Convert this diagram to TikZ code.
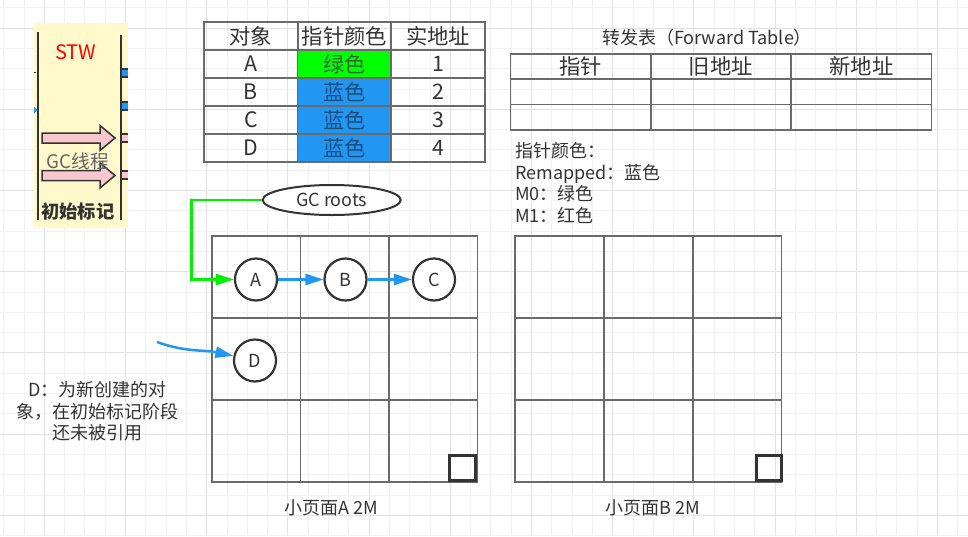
\documentclass[tikz,border=0pt]{standalone}
\usepackage{fontspec}
\setmainfont{Noto Sans CJK SC}
\usetikzlibrary{arrows.meta, positioning, shapes.geometric}

\newdimen\pxu \pxu=0.75pt
\newcommand\bodyfont{\fontsize{13.5}{16.1}\selectfont}
\newcommand\tabfont{\fontsize{16}{19}\selectfont}

\definecolor{gridminor}{HTML}{F2F2F2}
\definecolor{gridmajor}{HTML}{E2E2E2}
\definecolor{linegray}{HTML}{6A6A6A}
\definecolor{inkgray}{HTML}{333333}
\definecolor{panelyellow}{HTML}{FFF9CC}
\definecolor{arrowpink}{HTML}{F8C8CE}
\definecolor{cellgreen}{HTML}{00FF00}
\definecolor{cellblue}{HTML}{2196F3}
\definecolor{greentext}{HTML}{2E6B2E}
\definecolor{bluetext}{HTML}{1D4E80}
\definecolor{ptrblue}{HTML}{2196F3}
\definecolor{rootgreen}{HTML}{00F000}

\begin{document}
\begin{tikzpicture}[x=0.75pt, y=-0.75pt,
    cell/.style={draw=linegray, line width=1.5\pxu, minimum width=93.7\pxu, minimum height=28\pxu,
                 inner sep=0pt, text=inkgray, font=\tabfont},
    fwdcell/.style={cell, minimum width=140.3\pxu, minimum height=25.3\pxu},
    pagecell/.style={draw=linegray, line width=1.5\pxu, minimum width=88.6\pxu, minimum height=82\pxu, inner sep=0pt},
    obj/.style={circle, draw=inkgray, line width=2.2\pxu, fill=white, minimum size=42\pxu, inner sep=0pt,
                text=inkgray, font=\bodyfont},
    ptr/.style={draw=ptrblue, line width=2.5\pxu, -{Triangle[length=13.5pt, width=8.25pt]}},
    rootlink/.style={ptr, draw=rootgreen},
    freepage/.style={draw=inkgray, line width=3\pxu, minimum size=25.5\pxu, inner sep=0pt},
    txt/.style={text=inkgray, font=\bodyfont, inner sep=0pt},
    pinkarrow/.style={fill=arrowpink, draw=inkgray, line width=1.5\pxu}]
    \useasboundingbox (0,0) rectangle (968,536);
    % background grid
    \foreach \k in {0,...,47}
        \draw[gridminor, line width=1\pxu] ({3.7+20.3*\k},0) -- ({3.7+20.3*\k},536);
    \foreach \k in {0,...,26}
        \draw[gridminor, line width=1\pxu] (0,{7.8+20.3*\k}) -- (968,{7.8+20.3*\k});
    \foreach \k in {0,...,11}
        \draw[gridmajor, line width=1\pxu] ({44.3+81.2*\k},0) -- ({44.3+81.2*\k},536);
    \foreach \k in {0,...,6}
        \draw[gridmajor, line width=1\pxu] (0,{28.1+81.2*\k}) -- (968,{28.1+81.2*\k});

    % STW panel
    \fill[panelyellow] (34,23) rectangle (128,228);
    \draw[inkgray, line width=2\pxu] (38,32) -- (38,220);
    \draw[inkgray, line width=2\pxu] (120.7,35) -- (120.7,220);
    \fill[ptrblue] (34,106.5) -- (37.5,110) -- (34,113.5) -- cycle;
    \draw[inkgray] (34,72) -- (35.5,72);
    \foreach \sy/\sc in {73/cellblue, 106/cellblue, 138/arrowpink, 175/arrowpink}
        \filldraw[fill=\sc, draw=inkgray, line width=1.5\pxu] (128,\sy-4) -- (121.5,\sy-4) -- (121.5,\sy+4) -- (128,\sy+4);
    \foreach \ay in {138,175.5}
        \draw[pinkarrow] (42,\ay-5) -- (100,\ay-5) -- (100,\ay-12.5) -- (115,\ay)
            -- (100,\ay+12.5) -- (100,\ay+5) -- (42,\ay+5) -- cycle;
    \node[txt, text=red, font=\fontsize{15}{18}\selectfont] (stw) at (76,52) {STW};
    \node[txt, text=black!60, font=\fontsize{14}{17}\selectfont] (gcthread) at (78,161) {GC线程};
    \node[txt, font=\fontsize{13.7}{16}\selectfont\bfseries] (initmark) at (78,211) {初始标记};

    % pointer colour table
    \node[cell] (hobj) at (250.9,36) {对象};
    \node[cell] (hcolor) at (344.4,36) {指针颜色};
    \node[cell] (haddr) at (438,36) {实地址};
    \foreach \obj/\pc/\fc/\tc/\addr [count=\r] in
        {A/绿色/cellgreen/greentext/1, B/蓝色/cellblue/bluetext/2,
         C/蓝色/cellblue/bluetext/3, D/蓝色/cellblue/bluetext/4} {
        \node[cell] (obj\r) at (250.9,{36+28*\r}) {\obj};
        \node[cell, fill=\fc, text=\tc] (color\r) at (344.4,{36+28*\r}) {\pc};
        \node[cell] (addr\r) at (438,{36+28*\r}) {\addr};
    }

    % forward table
    \node[txt] (fwdtitle) at (707,38) {转发表（Forward Table）};
    \node[fwdcell] (fptr) at (580.7,66.5) {指针};
    \node[fwdcell] (fold) at (720.9,66.5) {旧地址};
    \node[fwdcell] (fnew) at (861.4,66.5) {新地址};
    \foreach \r in {1,2}
        \foreach \cx [count=\c] in {580.7,720.9,861.4}
            \node[fwdcell] (f\r-\c) at (\cx,{66.5+25.3*\r}) {};
    \node[txt, anchor=north west, align=left] (legend) at (515,142.5)
        {指针颜色：\\Remapped：蓝色\\M0：绿色\\M1：红色};

    % small page A
    \foreach \r in {1,2,3}
        \foreach \c in {1,2,3}
            \node[pagecell] (pa\r\c) at ({212+88.4*(\c-0.5)},{236+82*(\r-0.5)}) {};
    \node[freepage] (freea) at (462.5,468) {};
    \node[txt] (pagea) at (331,508) {小页面A 2M};

    % small page B
    \foreach \r in {1,2,3}
        \foreach \c in {1,2,3}
            \node[pagecell] (pb\r\c) at ({515+88.9*(\c-0.5)},{236+82*(\r-0.5)}) {};
    \node[freepage] (freeb) at (769,468) {};
    \node[txt] (pageb) at (653,508) {小页面B 2M};

    % objects and references
    \node[ellipse, draw=inkgray, line width=2\pxu, fill=white, minimum width=138\pxu, minimum height=30\pxu,
          inner sep=0pt, text=inkgray, font=\bodyfont] (roots) at (331.7,200) {GC roots};
    \node[obj] (A) at (256,279.5) {A};
    \node[obj] (B) at (345.5,279.5) {B};
    \node[obj] (C) at (434,279.5) {C};
    \node[obj] (D) at (255,360.5) {D};
    \draw[rootlink] (roots.west) -- ++(-70,0) |- (A);
    \draw[ptr] (A) -- (B);
    \draw[ptr] (B) -- (C);
    \coordinate (dsrc) at (157,342);
    \draw[ptr] (dsrc) to[out=-20, in=168] (D);
    \node[txt, align=center] (dnote) at (97.5,411.5)
        {D：为新创建的对\\象，在初始标记阶段\\还未被引用};
\end{tikzpicture}
\end{document}
